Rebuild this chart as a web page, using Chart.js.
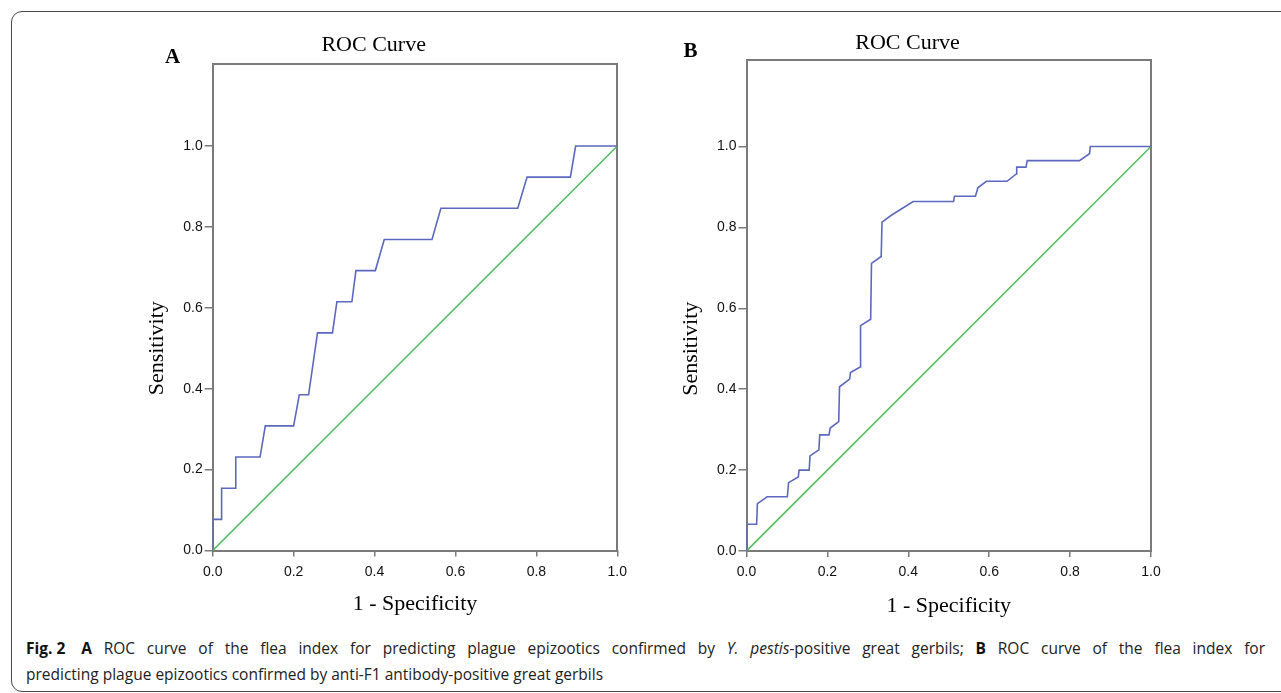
<!DOCTYPE html>
<html>
<head>
<meta charset="utf-8">
<script src="https://cdn.jsdelivr.net/npm/chart.js@4.4.1/dist/chart.umd.min.js"></script>
<style>
  html, body { margin:0; padding:0; background:#fff; width:1281px; height:693px; overflow:hidden; position:relative; }
  .frame { position:absolute; left:11px; top:11px; width:1300px; height:681px; border:1px solid #4a4a4a; border-radius:11px; box-sizing:border-box; }
  canvas.panel { position:absolute; }
  .cap { position:absolute; left:26px; top:635px; font-family:"Open Sans", sans-serif; font-size:15.5px; line-height:26px; color:#222; }
  .cap .l1 { width:1239px; white-space:nowrap; text-align:justify; text-align-last:justify; }
  .cap .l2 { white-space:nowrap; }
  .cap .fig { display:inline-block; margin-right:4px; }
  .cap b { font-weight:700; color:#111; }
</style>
</head>
<body>
<div class="frame"></div>
<canvas id="chartA" class="panel" width="520" height="610" style="left:130px;top:20px;width:520px;height:610px"></canvas>
<canvas id="chartB" class="panel" width="540" height="610" style="left:663.5px;top:20px;width:540px;height:610px"></canvas>
<div class="cap"><div class="l1"><b class="fig">Fig. 2</b> <b>A</b> ROC curve of the flea index for predicting plague epizootics confirmed by <i>Y. pestis</i>-positive great gerbils; <b>B</b> ROC curve of the flea index for</div><div class="l2">predicting plague epizootics confirmed by anti-F1 antibody-positive great gerbils</div></div>
<script>
// ---- data ----
const panelLetters = ["A", "B"];
const chartTitle = "ROC Curve";
const xAxisTitle = "1 - Specificity";
const yAxisTitle = "Sensitivity";
const xTickValues = [0, 0.2, 0.4, 0.6, 0.8, 1.0];
const yTickValues = [0, 0.2, 0.4, 0.6, 0.8, 1.0];

// Panel A: flea index vs Y. pestis-positive great gerbils
const fprA = [0, 0, 0.022, 0.022, 0.057, 0.057, 0.117, 0.130, 0.200, 0.214, 0.237, 0.259, 0.296, 0.307, 0.344, 0.354, 0.402, 0.424, 0.542, 0.564, 0.754, 0.777, 0.884, 0.897, 1.0];
const tprA = [0, 0.077, 0.077, 0.154, 0.154, 0.231, 0.231, 0.308, 0.308, 0.385, 0.385, 0.538, 0.538, 0.615, 0.615, 0.692, 0.692, 0.769, 0.769, 0.846, 0.846, 0.923, 0.923, 1.0, 1.0];

// Panel B: flea index vs anti-F1 antibody-positive great gerbils
const fprB = [0, 0, 0.025, 0.027, 0.051, 0.101, 0.104, 0.128, 0.130, 0.155, 0.157, 0.179, 0.181, 0.204, 0.207, 0.228, 0.230, 0.255, 0.257, 0.281, 0.282, 0.307, 0.309, 0.333, 0.335, 0.358, 0.412, 0.512, 0.514, 0.566, 0.572, 0.593, 0.644, 0.667, 0.668, 0.691, 0.694, 0.823, 0.848, 0.850, 1.0];
const tprB = [0, 0.066, 0.066, 0.117, 0.134, 0.134, 0.169, 0.183, 0.200, 0.200, 0.235, 0.250, 0.287, 0.287, 0.304, 0.320, 0.406, 0.425, 0.441, 0.455, 0.557, 0.573, 0.711, 0.728, 0.813, 0.830, 0.864, 0.864, 0.877, 0.877, 0.898, 0.914, 0.914, 0.932, 0.949, 0.949, 0.965, 0.965, 0.982, 1.0, 1.0];

// Reference (chance) diagonal
const refX = [0, 1];
const refY = [0, 1];

// ---- drawing ----
const GRAY = '#7a7a7a';
const BLUE = 'rgb(92,104,190)';
const GREEN = 'rgb(84,188,96)';

const panelText = {
  id: 'panelText',
  afterDraw(chart, args, opts) {
    const { ctx, chartArea } = chart;
    const y = chart.scales.y;
    ctx.save();
    ctx.fillStyle = '#000';
    ctx.font = 'bold 21px "Liberation Serif"';
    ctx.textAlign = 'left';
    ctx.textBaseline = 'alphabetic';
    ctx.fillText(opts.letter, opts.letterX, opts.letterY);
    ctx.translate(chartArea.left - opts.yTitleOffset, y.getPixelForValue(0.5));
    ctx.rotate(-Math.PI / 2);
    ctx.textAlign = 'center';
    ctx.font = '22px "Liberation Serif"';
    ctx.fillText(opts.yTitle, 0, 0);
    ctx.restore();
  }
};

function toPoints(xs, ys) { return xs.map((x, i) => ({ x: x, y: ys[i] })); }

function makeChart(id, fpr, tpr, lay) {
  return new Chart(document.getElementById(id), {
    type: 'line',
    data: {
      datasets: [
        { data: toPoints(fpr, tpr), borderColor: BLUE, borderWidth: 1.6, pointRadius: 0, tension: 0, fill: false },
        { data: toPoints(refX, refY), borderColor: GREEN, borderWidth: 1.6, pointRadius: 0, tension: 0, fill: false }
      ]
    },
    options: {
      responsive: false,
      devicePixelRatio: 1,
      animation: false,
      events: [],
      layout: { padding: { left: 0, right: lay.padRight, top: 0, bottom: 0 } },
      plugins: {
        legend: { display: false },
        tooltip: { enabled: false },
        title: {
          display: true, text: chartTitle, color: '#000',
          font: { family: 'Liberation Serif', size: 22, weight: 'normal' },
          padding: { top: lay.titleTop, bottom: lay.titleBottom }
        },
        panelText: { letter: lay.letter, letterX: lay.letterX, letterY: lay.letterY, yTitle: yAxisTitle, yTitleOffset: lay.yTitleOffset }
      },
      scales: {
        x: {
          type: 'linear', position: 'bottom', min: 0, max: 1,
          afterBuildTicks: s => { s.ticks = xTickValues.map(v => ({ value: v })); },
          ticks: { callback: v => Number(v).toFixed(1), color: '#111', font: { family: 'Liberation Sans', size: 14 }, padding: 7, maxRotation: 0 },
          grid: { display: true, drawOnChartArea: false, drawTicks: true, tickLength: 6, color: GRAY, lineWidth: 1.5 },
          border: { display: true, color: GRAY, width: 2 },
          title: { display: true, text: xAxisTitle, color: '#000', font: { family: 'Liberation Serif', size: 22 }, padding: { top: 0, bottom: lay.xTitlePad } },
          afterFit: s => { s.height = lay.xH; }
        },
        y: {
          type: 'linear', position: 'left', min: 0, max: lay.yMax,
          afterBuildTicks: s => { s.ticks = yTickValues.map(v => ({ value: v })); },
          ticks: { callback: v => Number(v).toFixed(1), color: '#111', font: { family: 'Liberation Sans', size: 14 }, padding: 2 },
          grid: { display: true, drawOnChartArea: false, drawTicks: true, tickLength: 8, color: GRAY, lineWidth: 1.5 },
          border: { display: true, color: GRAY, width: 2 },
          afterFit: s => { s.width = lay.yW; }
        },
        x2: {
          type: 'linear', position: 'top', min: 0, max: 1,
          ticks: { display: false }, grid: { display: false, drawTicks: false },
          border: { display: true, color: GRAY, width: 2 },
          afterFit: s => { s.height = 0; }
        },
        y2: {
          type: 'linear', position: 'right', min: 0, max: 1,
          ticks: { display: false }, grid: { display: false, drawTicks: false },
          border: { display: true, color: GRAY, width: 2 },
          afterFit: s => { s.width = 0; }
        }
      }
    },
    plugins: [panelText]
  });
}

makeChart('chartA', fprA, tprA, {
  letter: panelLetters[0], letterX: 35, letterY: 43.3,
  padRight: 32.7, titleTop: 12.3, titleBottom: 5.3,
  yW: 82.7, xH: 79.5, xTitlePad: 12.1, yMax: 1.2027, yTitleOffset: 49.7
});
makeChart('chartB', fprB, tprB, {
  letter: panelLetters[1], letterX: 19.5, letterY: 37,
  padRight: 53, titleTop: 9.8, titleBottom: 3.8,
  yW: 82.5, xH: 79, xTitlePad: 10.1, yMax: 1.2138, yTitleOffset: 50
});
</script>
</body>
</html>
